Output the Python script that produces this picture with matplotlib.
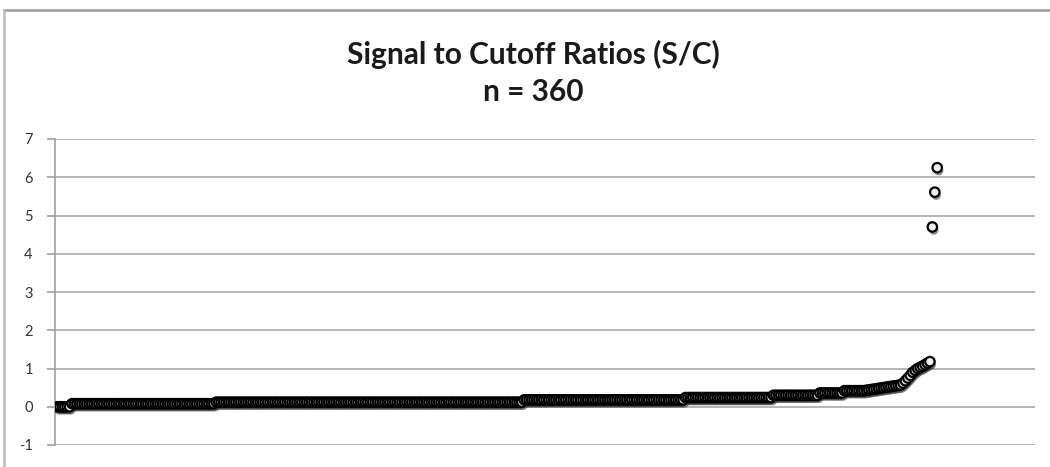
import numpy as np
import matplotlib
matplotlib.use("Agg")
import matplotlib.pyplot as plt
import matplotlib.patheffects as pe
from matplotlib.lines import Line2D

# --- data (sorted S/C ratios, n = 360) ---
level_values = [0.0, 0.08, 0.12, 0.18, 0.24, 0.30, 0.36, 0.42]
level_counts = [6, 59, 126, 66, 36, 19, 10, 9]
tail_values = [0.43, 0.44, 0.45, 0.46, 0.47, 0.48, 0.49, 0.50, 0.51, 0.52,
               0.53, 0.54, 0.55, 0.56, 0.57, 0.62, 0.68, 0.75, 0.82, 0.90,
               0.95, 1.00, 1.03, 1.06, 1.10, 1.14, 1.18]
outlier_values = [4.70, 5.61, 6.25]

y_ticks = [-1, 0, 1, 2, 3, 4, 5, 6, 7]
title_text = "Signal to Cutoff Ratios (S/C)\nn = 360"

values = np.concatenate([np.repeat(level_values, level_counts), tail_values, outlier_values])
x = np.arange(1, len(values) + 1)

plt.rcParams['font.family'] = ['Lato', 'DejaVu Sans']

fig = plt.figure(figsize=(10.5, 4.67), dpi=100)
W, H = 1050, 467
ax = fig.add_axes([55 / W, (H - 445) / H, (1035 - 55) / W, (445 - 139) / H])

ax.plot(x, values, linestyle='none', marker='o', markersize=6.8,
        markerfacecolor='#eeeeee', markeredgecolor='#000000', markeredgewidth=1.6,
        path_effects=[pe.SimplePatchShadow(offset=(1.0, -2.2), shadow_rgbFace='#333333', alpha=0.55),
                      pe.Normal()], zorder=3)

ax.set_xlim(0, 401)
ax.set_ylim(-1, 7)
ax.set_yticks(y_ticks)
ax.set_yticklabels([str(t) for t in y_ticks])
ax.set_xticks([])
ax.grid(axis='y', color='#a8a8a8', linewidth=1.2)
ax.set_axisbelow(True)
for s in ['top', 'right', 'bottom']:
    ax.spines[s].set_visible(False)
ax.spines['left'].set_color('#a0a0a0')
ax.spines['left'].set_linewidth(1.2)
ax.tick_params(axis='y', length=6, width=1.2, color='#a0a0a0', labelsize=10.5,
               labelcolor='#333333', pad=10)

fig.text(0.508, (H - 73) / H, title_text, ha='center', va='center', fontsize=21.5,
         fontweight='bold', color='#1a1a1a', linespacing=1.38)

# chart frame
fig.add_artist(Line2D([4 / W, 1.0], [(H - 10) / H, (H - 10) / H], color='#999999', linewidth=1.8))
fig.add_artist(Line2D([4 / W, 4 / W], [0, (H - 10) / H], color='#bbbbbb', linewidth=1.8))

fig.savefig("out.png", dpi=100)
